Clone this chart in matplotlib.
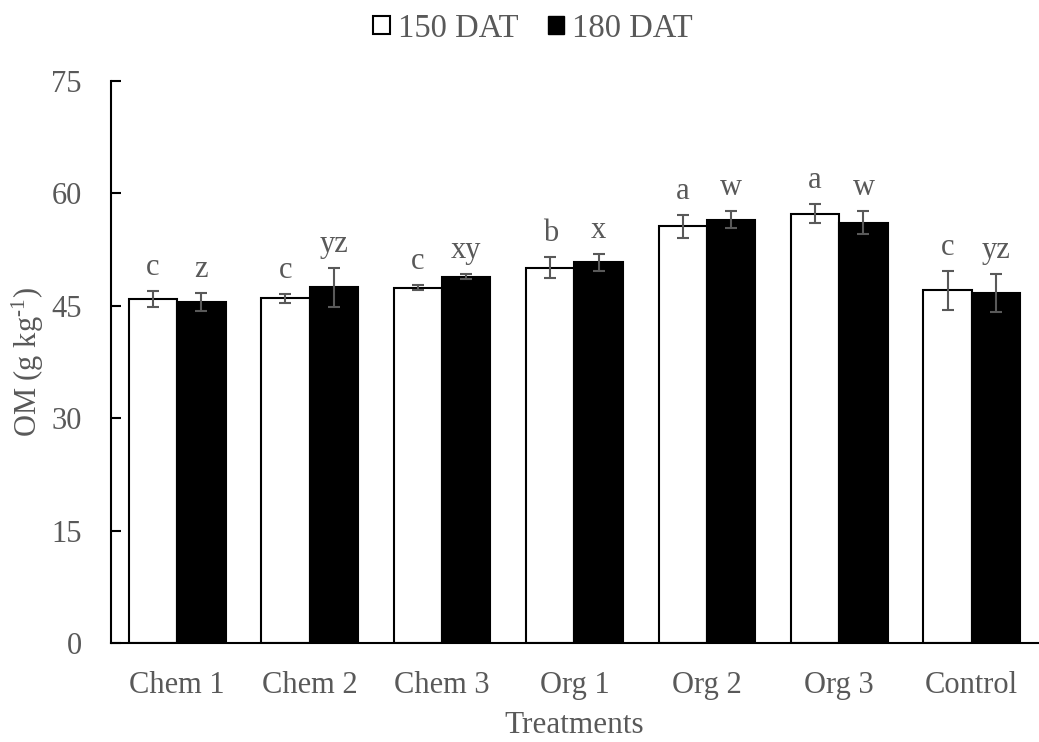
import matplotlib
matplotlib.use("Agg")
import matplotlib.pyplot as plt
import numpy as np
from matplotlib.patches import Patch

plt.rcParams['font.family'] = ['Liberation Serif', 'DejaVu Serif']
plt.rcParams['mathtext.fontset'] = 'custom'
plt.rcParams['mathtext.rm'] = 'Liberation Serif'
plt.rcParams['mathtext.it'] = 'Liberation Serif:italic'

categories = ["Chem 1", "Chem 2", "Chem 3", "Org 1", "Org 2", "Org 3", "Control"]
dat150 = [45.9, 46.0, 47.4, 50.1, 55.6, 57.3, 47.1]
err150 = [1.1, 0.6, 0.35, 1.4, 1.5, 1.3, 2.6]
dat180 = [45.5, 47.5, 48.9, 50.8, 56.5, 56.1, 46.7]
err180 = [1.2, 2.6, 0.3, 1.1, 1.1, 1.5, 2.5]
letters150 = ["c", "c", "c", "b", "a", "a", "c"]
letters180 = ["z", "yz", "xy", "x", "w", "w", "yz"]
yticks = [0, 15, 30, 45, 60, 75]

grey = "#595959"
fig = plt.figure(figsize=(10.39, 7.42), dpi=100)
ax = fig.add_axes([0.1068, 0.1334, 0.8922, 0.7574])

x = np.arange(len(categories))
w = 0.365
ax.bar(x - w/2, dat150, w, color="white", edgecolor="black", linewidth=1.5, zorder=2)
ax.bar(x + w/2, dat180, w, color="black", edgecolor="black", linewidth=1.5, zorder=2)
ax.errorbar(x - w/2, dat150, yerr=err150, fmt="none", ecolor=grey, elinewidth=1.5,
            capsize=4, capthick=1.5, zorder=3)
ax.errorbar(x + w/2, dat180, yerr=err180, fmt="none", ecolor=grey, elinewidth=1.5,
            capsize=4, capthick=1.5, zorder=3)

for i in range(len(categories)):
    ax.text(x[i] - w/2, dat150[i] + err150[i] + 1.2, letters150[i], ha="center", va="bottom",
            fontsize=22, color=grey)
    ax.text(x[i] + w/2, dat180[i] + err180[i] + 1.2, letters180[i], ha="center", va="bottom",
            fontsize=22, color=grey)

ax.set_xlim(-0.5, len(categories) - 0.5)
ax.set_ylim(0, 75)
ax.set_yticks(yticks)
ax.set_xticks(x)
ax.set_xticklabels(categories)
ax.tick_params(axis="x", length=0, labelsize=22, labelcolor=grey, pad=20)
ax.tick_params(axis="y", length=7, width=1.5, labelsize=22, labelcolor=grey, pad=21, direction="in")
for s in ["top", "right"]:
    ax.spines[s].set_visible(False)
for s in ["left", "bottom"]:
    ax.spines[s].set_linewidth(1.5)
    ax.spines[s].set_color("black")

ax.set_ylabel(r"OM (g kg$^{\text{-}1}$)", fontsize=22, color=grey, labelpad=4)
ax.set_xlabel("Treatments", fontsize=22.5, color=grey, labelpad=8)

handles = [Patch(facecolor="white", edgecolor="black", linewidth=1.5, label="150 DAT"),
           Patch(facecolor="black", edgecolor="black", label="180 DAT")]
leg = fig.legend(handles=handles, loc="upper center", bbox_to_anchor=(0.513, 1.022), ncol=2,
                 frameon=False, fontsize=23.5, handlelength=0.5, handleheight=0.45,
                 handletextpad=0.25, columnspacing=0.9, labelcolor=grey)

fig.savefig("out.png", dpi=100)
